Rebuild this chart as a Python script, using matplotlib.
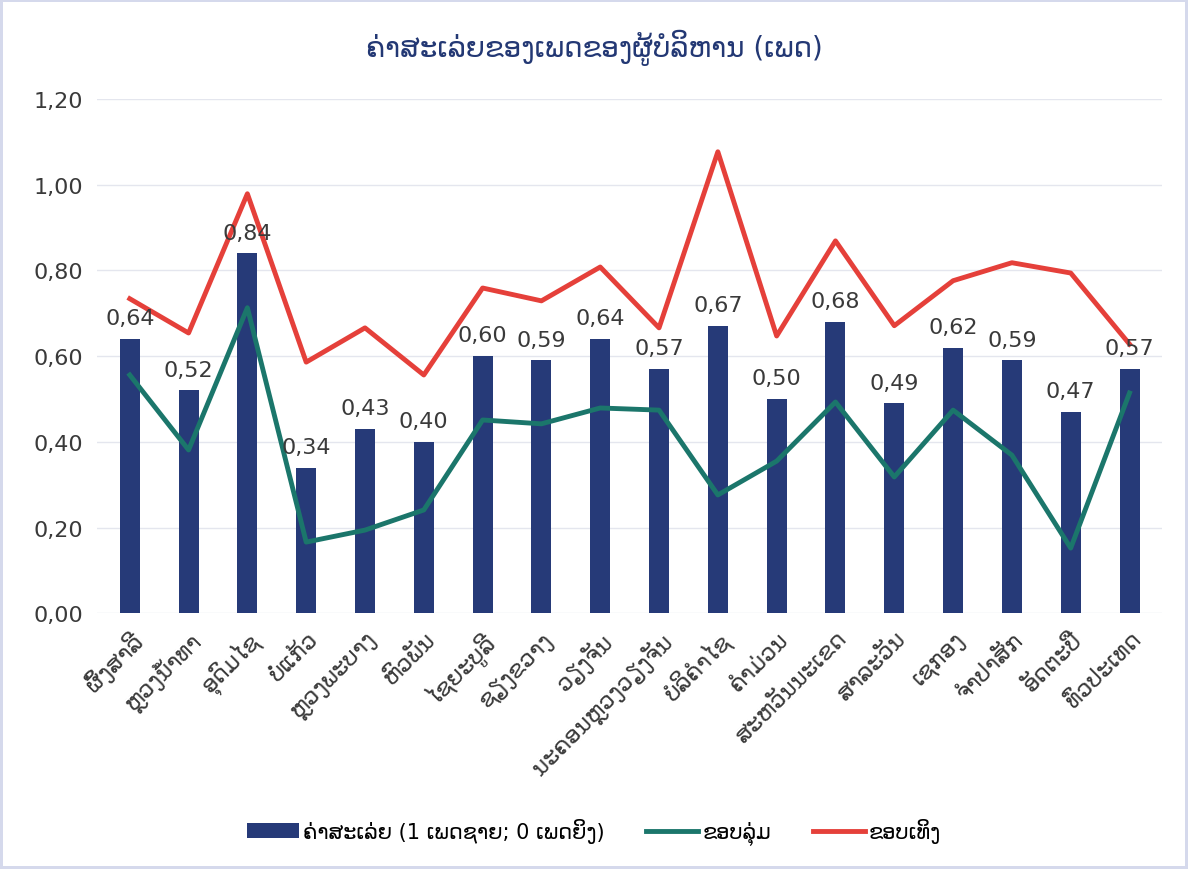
import numpy as np
import matplotlib
matplotlib.use("Agg")
import matplotlib.pyplot as plt

plt.rcParams['font.family'] = ['DejaVu Sans']

provinces = ["ຜົ້ງສາລີ", "ຫຼວງນ້ຳທາ", "ອຸດົມໄຊ", "ບໍ່ແກ້ວ", "ຫຼວງພະບາງ", "ຫົວພັນ",
             "ໄຊຍະບູລີ", "ຊຽງຂວາງ", "ວຽງຈັນ", "ນະຄອນຫຼວງວຽງຈັນ", "ບໍລິຄຳໄຊ",
             "ຄຳມ່ວນ", "ສະຫວັນນະເຂດ", "ສາລະວັນ", "ເຊກອງ", "ຈຳປາສັກ", "ອັດຕະປື", "ທົ່ວປະເທດ"]
mean_vals = [0.64, 0.52, 0.84, 0.34, 0.43, 0.40, 0.60, 0.59, 0.64, 0.57, 0.67,
             0.50, 0.68, 0.49, 0.62, 0.59, 0.47, 0.57]
lower_vals = [0.556, 0.381, 0.713, 0.166, 0.194, 0.241, 0.451, 0.442, 0.479, 0.474,
              0.276, 0.355, 0.493, 0.318, 0.474, 0.369, 0.152, 0.514]
upper_vals = [0.734, 0.654, 0.979, 0.586, 0.666, 0.556, 0.759, 0.729, 0.808, 0.666,
              1.077, 0.647, 0.869, 0.671, 0.776, 0.818, 0.794, 0.628]

title = "ຄ່າສະເລ່ຍຂອງເພດຂອງຜູ້ບໍລິຫານ (ເພດ)"
lbl_mean = "ຄ່າສະເລ່ຍ (1 ເພດຊາຍ; 0 ເພດຍິງ)"
lbl_low = "ຂອບລຸ່ມ"
lbl_up = "ຂອບເທິງ"

navy = "#263A78"
teal = "#1B766B"
red = "#E5403A"
txt = "#3A3A3A"

fig = plt.figure(figsize=(11.88, 8.70), dpi=100)
fig.patch.set_edgecolor("#D5D9EC")
fig.patch.set_linewidth(3)
ax = fig.add_axes([0.082, 0.294, 0.896, 0.591])

x = np.arange(len(provinces))
ax.bar(x, mean_vals, width=0.34, color=navy, label=lbl_mean, zorder=2)
ax.plot(x, lower_vals, color=teal, lw=3.5, label=lbl_low, zorder=3)
ax.plot(x, upper_vals, color=red, lw=3.5, label=lbl_up, zorder=3)

for xi, v in zip(x, mean_vals):
    ax.text(xi, v + 0.025, f"{v:.2f}".replace(".", ","), ha="center", va="bottom",
            fontsize=16, color=txt, zorder=4)

ax.set_ylim(0, 1.2)
ax.set_xlim(-0.55, len(provinces) - 0.45)
yt = np.arange(0, 1.21, 0.2)
ax.set_yticks(yt)
ax.set_yticklabels([f"{t:.2f}".replace(".", ",") for t in yt], fontsize=16, color=txt)
ax.set_xticks(x)
ax.set_xticklabels(provinces, rotation=45, ha="right", rotation_mode="anchor",
                   fontsize=16.5, color=txt)
ax.tick_params(length=0, pad=10)
ax.grid(axis="y", color="#E4E6EE", lw=1, zorder=0)
for s in ax.spines.values():
    s.set_visible(False)
ax.set_axisbelow(True)

fig.text(0.5, 0.945, title, ha="center", va="center", fontsize=20, color="#233874")

h, l = ax.get_legend_handles_labels()
order = [l.index(lbl_mean), l.index(lbl_low), l.index(lbl_up)]
fig.legend([h[i] for i in order], [l[i] for i in order], loc="center",
           bbox_to_anchor=(0.5, 0.043), ncol=3, frameon=False,
           fontsize=15, handlelength=2.5, handletextpad=0.2, columnspacing=2.0)

fig.savefig("out.png", dpi=100)
